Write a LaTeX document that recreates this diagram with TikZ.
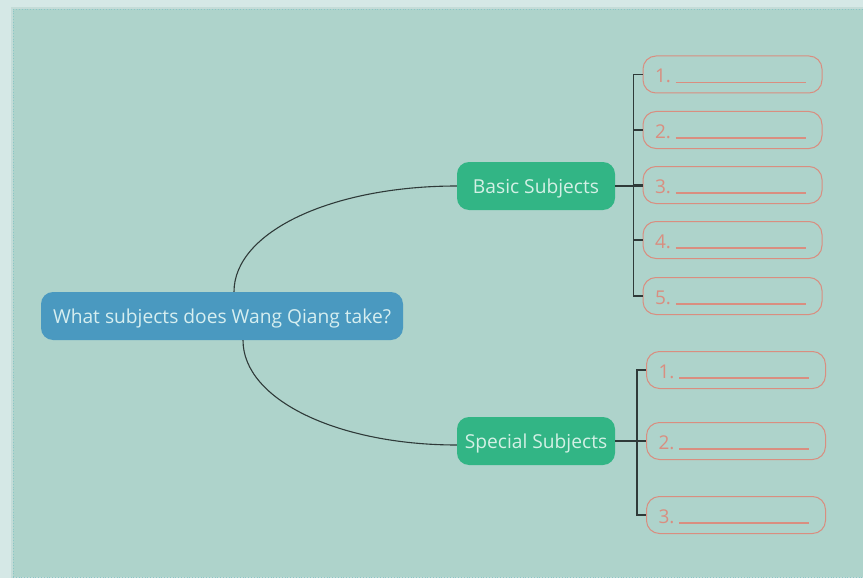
\documentclass[tikz,border=0pt]{standalone}
\usepackage{fontspec}
\setmainfont{Open Sans}
\usepackage{tikz}

\definecolor{panelbg}{HTML}{AED3CB}
\definecolor{outerbg}{HTML}{D5E8E6}
\definecolor{rootblue}{HTML}{4A99C0}
\definecolor{roottxt}{HTML}{D6EEF0}
\definecolor{subgreen}{HTML}{32B585}
\definecolor{subtxt}{HTML}{D3F0E5}
\definecolor{salmon}{HTML}{D98E80}
\definecolor{linkgray}{HTML}{2F3A39}

\tikzset{
  topic/.style={rounded corners=12pt,minimum height=48pt,inner xsep=4pt,
    text height=15pt,text depth=0pt,font=\fontsize{19.2}{21}\selectfont},
  answer/.style={draw=salmon,line width=1pt,rounded corners=13pt,
    minimum height=37pt,text width=155pt,inner xsep=12pt,align=left,
    text height=18pt,text depth=1pt,
    text=salmon,font=\fontsize{19}{21}\selectfont},
  link/.style={linkgray,line width=1.1pt}
}
\newcommand{\blank}{\rule[-0.5pt]{130pt}{1.8pt}}

\begin{document}
\begin{tikzpicture}[x=1pt,y=-1pt]
\useasboundingbox (0,0) rectangle (863,578);
\fill[outerbg] (0,0) rectangle (863,578);
\fill[panelbg!85!gray,opacity=.35] (11,7) rectangle (863,578);
\fill[panelbg] (13,9) rectangle (863,577);
\draw[teal!45,dotted,line width=0.8pt] (13,577) -- (13,9) -- (863,9);
\draw[teal!45,dotted,line width=0.8pt] (13,577) -- (863,577);

% main topic and the two branches
\node[topic,fill=rootblue,text=roottxt,minimum width=362pt] (root) at (222,316) {What subjects does Wang Qiang take?};
\node[topic,fill=subgreen,text=subtxt,minimum width=158pt] (basic) at (536,186) {Basic Subjects};
\node[topic,fill=subgreen,text=subtxt,minimum width=158pt] (special) at (536,441) {Special Subjects};

\draw[link] ([xshift=12pt]root.north) .. controls +(0,-60) and +(-125,0) .. (basic.west);
\draw[link] ([xshift=21pt]root.south) .. controls +(0,60) and +(-118,0) .. ([yshift=-4pt]special.west);

% answer boxes
\foreach \nn/\yy in {1/74.5,2/130,3/185,4/240,5/296}{
\node[answer] (b\nn) at (732.5,\yy) {\nn.\hspace{5pt}\blank};}
\foreach \nn/\yy in {1/370,2/441,3/515}{
\node[answer] (s\nn) at (736,\yy) {\nn.\hspace{5pt}\blank};}

% brackets
\draw[link] (basic.east) -- (basic.east -| b3.west);
\draw[link] (b1.west) -- ++(-9,0) |- (b5.west);
\foreach \nn in {2,3,4}{
\draw[link] (b\nn.west) -- ++(-9,0);}
\draw[link] (special.east) -- (special.east -| s2.west);
\draw[link] (s1.west) -- ++(-9,0) |- (s3.west);
\end{tikzpicture}
\end{document}
